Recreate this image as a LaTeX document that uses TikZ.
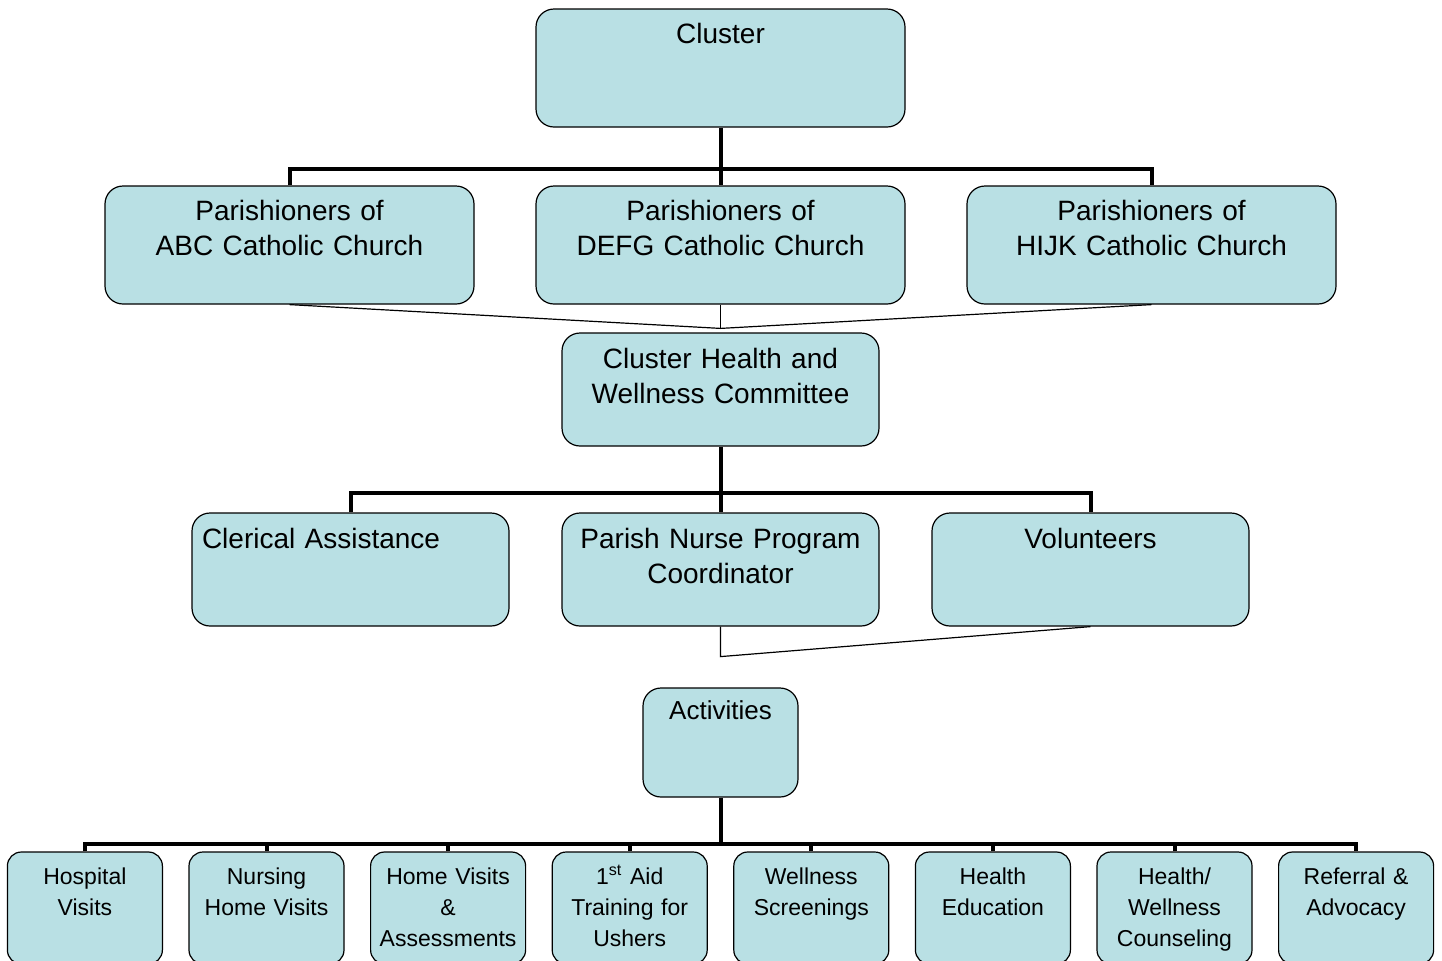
\documentclass[tikz,border=0pt]{standalone}
\usepackage{fontspec}
\setmainfont{Liberation Sans}
\usetikzlibrary{positioning}

\definecolor{boxblue}{RGB}{185,224,228}

\tikzset{
  orgbox/.style={draw=black,line width=0.6pt,fill=boxblue,rounded corners=9pt,
    inner ysep=0pt,align=center},
  topbox/.style={orgbox,inner xsep=5pt,text width=174.5pt,
    text height=17pt,text depth=42pt,font=\fontsize{14}{17.5}\selectfont},
  midbox/.style={orgbox,inner xsep=5pt,text width=148.5pt,
    text height=17.5pt,text depth=39pt,font=\fontsize{14}{17.5}\selectfont},
  actbox/.style={orgbox,inner xsep=3pt,text width=71.5pt,
    text height=15.5pt,text depth=39pt,font=\fontsize{13}{16}\selectfont},
  taskbox/.style={orgbox,inner xsep=3pt,text width=71.5pt,rounded corners=7pt,
    text height=16pt,text depth=40pt,font=\fontsize{11.5}{15.5}\selectfont},
  tree/.style={line width=2pt},
  feed/.style={line width=0.6pt}
}

\begin{document}
\begin{tikzpicture}[x=0.5pt,y=-0.5pt,node distance=12.7pt]

  \useasboundingbox (0,0) rectangle (1442,960);

  % top of the cluster
  \node[topbox] (cluster) at (720.5,68) {Cluster};

  \node[topbox] (defg) [below=28.9pt of cluster] {Parishioners of\\DEFG Catholic Church};
  \node[topbox] (abc) [left=30.4pt of defg] {Parishioners of\\ABC Catholic Church};
  \node[topbox] (hijk) [right=30.4pt of defg] {Parishioners of\\HIJK Catholic Church};

  \node[midbox] (committee) [below=13.9pt of defg] {Cluster Health and\\Wellness Committee};

  \node[midbox] (nurse) [below=32.9pt of committee] {Parish Nurse Program\\Coordinator};
  \node[midbox,align=left] (clerical) [left=25.9pt of nurse] {Clerical Assistance};
  \node[midbox] (volunteers) [right=25.9pt of nurse] {Volunteers};

  \node[actbox] (activities) [below=30.4pt of nurse] {Activities};

  % row of activities
  \node[taskbox] (aid) [below=26.9pt of activities,xshift=-45.4pt] {1\textsuperscript{st} Aid\\Training for\\Ushers};
  \node[taskbox] (screen) [right=of aid] {Wellness\\Screenings};
  \node[taskbox] (educ) [right=of screen] {Health\\Education};
  \node[taskbox] (couns) [right=of educ] {Health/\\Wellness\\Counseling};
  \node[taskbox] (refer) [right=of couns] {Referral \&\\Advocacy};
  \node[taskbox] (homeas) [left=of aid] {Home Visits\\\&\\Assessments};
  \node[taskbox] (nursing) [left=of homeas] {Nursing\\Home Visits};
  \node[taskbox] (hospital) [left=of nursing] {Hospital\\Visits};

  % tree lines
  \draw[tree] (cluster.south) -- ++(0,41) coordinate (bus1);
  \draw[tree] (abc.north) |- (bus1) -| (hijk.north);
  \draw[tree] (bus1) -- (defg.north);

  \draw[tree] (committee.south) -- ++(0,46) coordinate (bus2);
  \draw[tree] (clerical.north) |- (bus2) -| (volunteers.north);
  \draw[tree] (bus2) -- (nurse.north);

  \draw[tree] (activities.south) -- ++(0,46) coordinate (bus3);
  \draw[tree] (hospital.north) |- (bus3) -| (refer.north);
  \foreach \n in {nursing,homeas,aid,screen,educ,couns}
    \draw[tree] (\n.north) -- (\n.north |- bus3);

  % thin feeds
  \coordinate[above=2pt of committee] (cmeet);
  \draw[feed] (abc.south) -- (cmeet) -- (hijk.south);
  \draw[feed] (defg.south) -- (cmeet);

  \coordinate[below=15pt of nurse] (nmeet);
  \draw[feed] (nurse.south) -- (nmeet) -- (volunteers.south);

\end{tikzpicture}
\end{document}
